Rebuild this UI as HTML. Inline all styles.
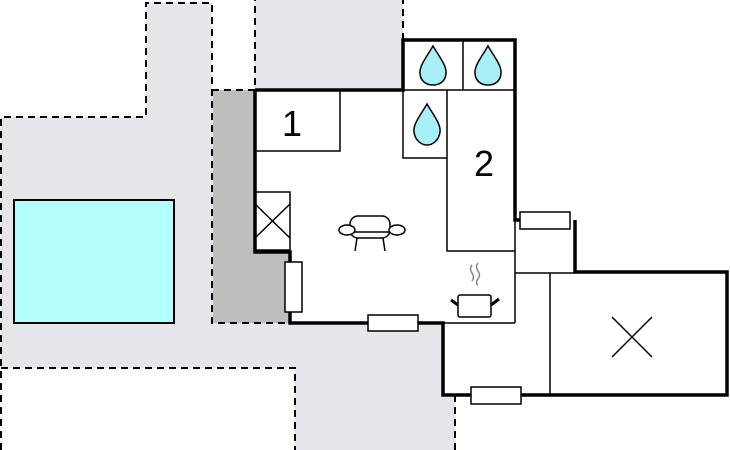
<!DOCTYPE html>
<html><head><style>body{margin:0;background:#fff}svg{display:block}</style></head><body>
<svg width="730" height="450" viewBox="0 0 730 450" xmlns="http://www.w3.org/2000/svg">
<polygon points="1,117 146,117 146,3 212,3 212,90 255,90 255,0 403,0 403,323 443,323 443,395 455,395 455,450 295,450 295,368 1,368" fill="#e6e6ea"/>
<rect x="213" y="90" width="77" height="233" fill="#bebebe"/>
<g fill="none" stroke="#000" stroke-width="2" stroke-dasharray="7,5">
<polyline points="1,450 1,117 146,117 146,3 212,3 212,323 290,323"/>
<polyline points="212,90 255,90 255,0"/>
<polyline points="403,40 403,0"/>
<polyline points="1,368 295,368 295,450"/>
<polyline points="455,395 455,450"/>
</g>
<rect x="14" y="200" width="160" height="123" fill="#b4ffff" stroke="#000" stroke-width="2"/>
<polygon points="255,90 403,90 403,40 515,40 515,220 575,220 575,272 727,272 727,395 443,395 443,323 290,323 290,252 255,252" fill="#fff"/>
<g fill="none" stroke="#000" stroke-width="1.5">
<polyline points="255,151 340,151 340,90"/>
<line x1="463" y1="40" x2="463" y2="90"/>
<line x1="403" y1="90" x2="515" y2="90"/>
<polyline points="403,90 403,158 447,158"/>
<polyline points="447,90 447,251 515,251"/>
<line x1="515" y1="220" x2="515" y2="323"/>
<line x1="443" y1="323" x2="515" y2="323"/>
<line x1="515" y1="273" x2="575" y2="273"/>
<line x1="550" y1="273" x2="550" y2="395"/>
<rect x="255" y="192" width="35" height="58"/>
<line x1="255" y1="204" x2="290" y2="238"/><line x1="290" y1="204" x2="255" y2="238"/>
<line x1="612" y1="317" x2="652" y2="357"/><line x1="652" y1="317" x2="612" y2="357"/>
</g>
<path d="M255,90 L403,90 L403,40 L515,40 L515,220 L520,220 M575,220 L575,272 L727,272 L727,395 L521,395 M471,395 L443,395 L443,323 L418,323 M368,323 L290,323 L290,312 M290,262 L290,252 L255,252 L255,90" fill="none" stroke="#000" stroke-width="3.5"/>
<g fill="#fff" stroke="#000" stroke-width="1.5">
<rect x="285" y="262" width="17" height="50"/>
<rect x="368" y="315" width="50" height="16"/>
<rect x="520" y="212" width="50" height="17"/>
<rect x="471" y="387" width="50" height="17"/>
</g>
<g fill="#a8f0f8" stroke="#000" stroke-width="1.5">
<path d="M433,46 C426,58 419,66 420,74 C421,82 427,85 433,85 C439,85 445,82 446,74 C447,66 440,58 433,46Z"/>
<path d="M488,46 C481,58 474,66 475,74 C476,82 482,85 488,85 C494,85 500,82 501,74 C502,66 495,58 488,46Z"/>
<path d="M427,104 C420,116 413,124 414,132 C415,140 421,145 427,145 C433,145 439,140 440,132 C441,124 434,116 427,104Z"/>
</g>
<text x="292" y="136" font-family="Liberation Sans, sans-serif" font-size="36" text-anchor="middle">1</text>
<text x="484" y="176" font-family="Liberation Sans, sans-serif" font-size="36" text-anchor="middle">2</text>
<g fill="#fff" stroke="#000" stroke-width="1.5">
<rect x="350" y="216" width="40" height="22" rx="8"/>
<line x1="350" y1="232" x2="390" y2="232"/>
<ellipse cx="347" cy="230" rx="8" ry="5"/>
<ellipse cx="397" cy="230" rx="8" ry="5"/>
<line x1="357" y1="238" x2="355" y2="251"/><line x1="383" y1="238" x2="385" y2="251"/>
<rect x="458" y="295" width="33" height="22" rx="2"/>
</g>
<g stroke="#000" stroke-width="3"><line x1="451" y1="300" x2="458" y2="305"/><line x1="491" y1="305" x2="499" y2="299"/></g>
<g fill="none" stroke="#888" stroke-width="1.5"><path d="M472,265 q-3,4 0,8 q3,4 0,8"/><path d="M478,263 q-3,4 0,8 q3,4 0,8 q-3,4 0,6"/></g>
</svg>
</body></html>
